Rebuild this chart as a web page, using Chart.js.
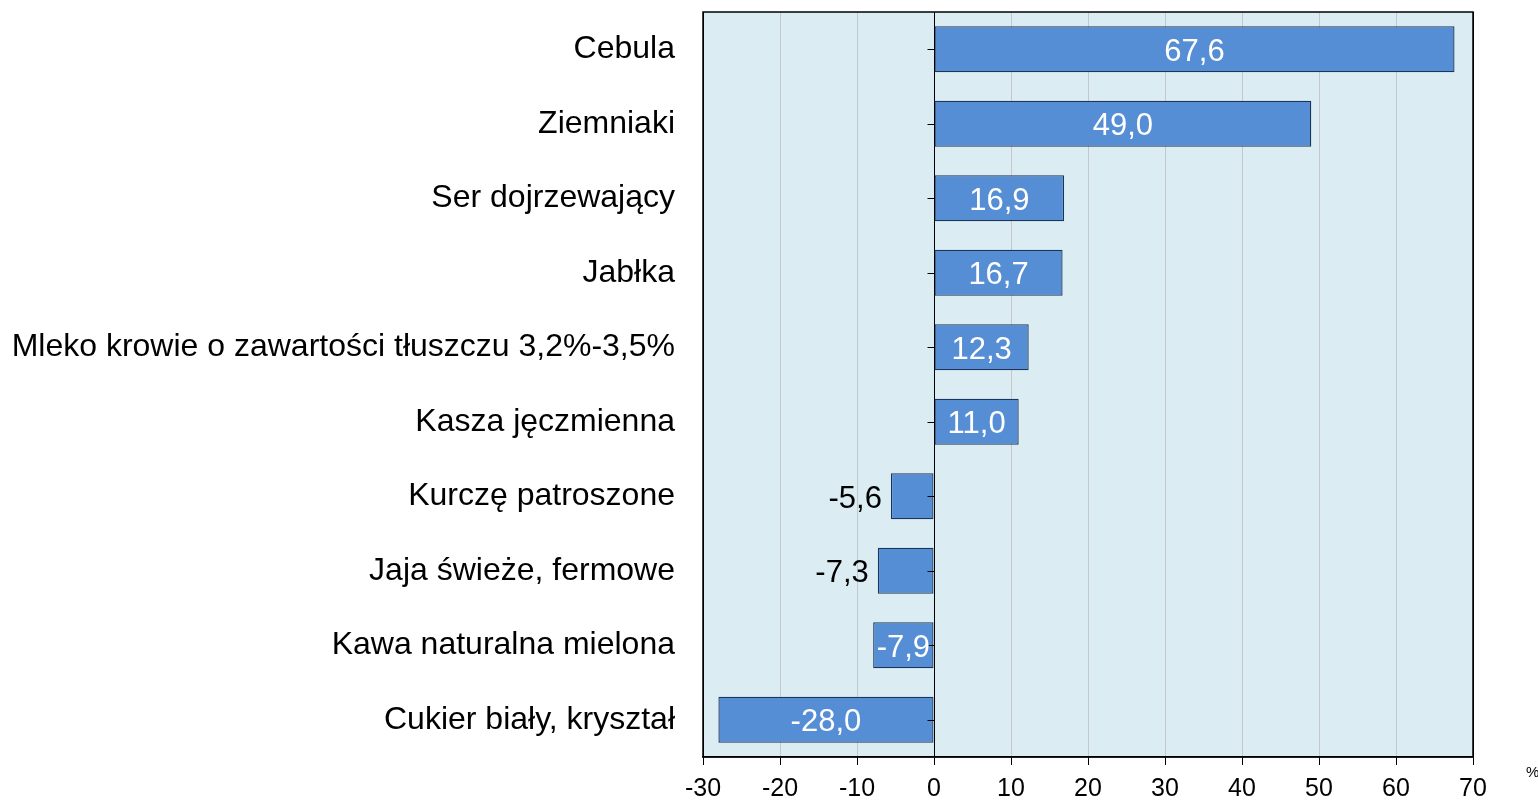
<!DOCTYPE html>
<html>
<head>
<meta charset="utf-8">
<script src="https://cdn.jsdelivr.net/npm/chart.js@4.4.0/dist/chart.umd.min.js"></script>
<style>
  body { margin: 0; background: #ffffff; }
  #wrap { width: 1538px; height: 801px; }
</style>
</head>
<body>
<div id="wrap"><canvas id="myChart01"></canvas></div>
<script>
const kategorie = ['Cebula', 'Ziemniaki', 'Ser dojrzewający', 'Jabłka', 'Mleko krowie o zawartości tłuszczu 3,2%-3,5%', 'Kasza jęczmienna', 'Kurczę patroszone', 'Jaja świeże, fermowe', 'Kawa naturalna mielona', 'Cukier biały, kryształ'];
const zmiany = [67.6, 49.0, 16.9, 16.7, 12.3, 11.0, -5.6, -7.3, -7.9, -28.0];
const osX_min = -30;
const osX_max = 70;
const osX_krok = 10;
const jednostka = '%';

const czcionka = "'Liberation Sans', Arial, sans-serif";

// tlo obszaru wykresu, ramka, os zero i etykiety wartosci
const pluginWykres = {
    id: 'pluginWykres',
    beforeDraw(chart) {
        const ctx = chart.ctx;
        const a = chart.chartArea;
        ctx.save();
        ctx.fillStyle = '#DBEDF3';
        ctx.fillRect(a.left, a.top, a.right - a.left, a.bottom - a.top);
        ctx.restore();
    },
    afterDatasetsDraw(chart) {
        const ctx = chart.ctx;
        const a = chart.chartArea;
        const x = chart.scales.x;
        const y = chart.scales.y;
        const x0 = Math.round(x.getPixelForValue(0)) + 0.5;

        ctx.save();
        // os pionowa w zerze
        ctx.strokeStyle = '#000000';
        ctx.lineWidth = 1;
        ctx.beginPath();
        ctx.moveTo(x0, a.top);
        ctx.lineTo(x0, a.bottom);
        ctx.stroke();
        for (let i = 0; i < kategorie.length; i++) {
            const py = Math.round(y.getPixelForValue(i)) + 0.5;
            ctx.beginPath();
            ctx.moveTo(x0 - 7, py);
            ctx.lineTo(x0, py);
            ctx.stroke();
        }

        // ramka
        ctx.strokeStyle = '#000000';
        ctx.lineWidth = 1.5;
        ctx.strokeRect(a.left, a.top, a.right - a.left, a.bottom - a.top);

        // etykiety wartosci
        ctx.font = '31px ' + czcionka;
        ctx.textBaseline = 'middle';
        const meta = chart.getDatasetMeta(0);
        meta.data.forEach(function (bar, i) {
            const v = zmiany[i];
            const tekst = v.toFixed(1).replace('.', ',');
            const left = Math.min(bar.x, bar.base);
            const right = Math.max(bar.x, bar.base);
            const w = ctx.measureText(tekst).width;
            if (v < 0 && Math.abs(v) < 7.5) {
                ctx.fillStyle = '#000000';
                ctx.textAlign = 'right';
                ctx.fillText(tekst, left - 9, bar.y + 3);
            } else {
                ctx.fillStyle = '#ffffff';
                ctx.textAlign = 'left';
                let tx = (left + right) / 2 - w / 2;
                if (v > 0 && tx < left + 3) tx = left + 3;
                ctx.fillText(tekst, tx, bar.y + 3);
            }
        });

        // jednostka
        ctx.fillStyle = '#000000';
        ctx.font = '15px ' + czcionka;
        ctx.textAlign = 'left';
        ctx.fillText(jednostka, a.right + 53, a.bottom + 16);
        ctx.restore();
    }
};

const grafico1 = document.getElementById('myChart01');

new Chart(grafico1, {
    type: 'bar',
    data: {
        labels: kategorie,
        datasets: [{
            label: 'Zmiana',
            data: zmiany,
            backgroundColor: '#558ED5',
            borderColor: '#1B355A',
            borderWidth: 1.3,
            borderSkipped: false,
            categoryPercentage: 1,
            barPercentage: 0.62
        }]
    },
    options: {
        indexAxis: 'y',
        responsive: true,
        maintainAspectRatio: false,
        animation: false,
        layout: {
            padding: { top: 12, right: 65, left: 0, bottom: 0 }
        },
        plugins: {
            legend: { display: false },
            tooltip: { enabled: false }
        },
        scales: {
            x: {
                min: osX_min,
                max: osX_max,
                afterFit(scale) { scale.height = 44; },
                ticks: {
                    stepSize: osX_krok,
                    color: '#000000',
                    font: { family: czcionka, size: 25 },
                    padding: 9,
                    maxRotation: 0
                },
                grid: {
                    color: function (c) {
                        const v = c.tick ? c.tick.value : null;
                        if (v === osX_min || v === osX_max || v === 0) return '#000000';
                        return '#C4C8CA';
                    },
                    tickColor: '#000000',
                    tickLength: 8,
                    lineWidth: 1
                },
                border: { display: true, color: '#000000', width: 1.5 }
            },
            y: {
                afterFit(scale) { scale.width = 703; },
                ticks: {
                    color: '#000000',
                    font: { family: czcionka, size: 32, lineHeight: 0.7 },
                    padding: 0
                },
                grid: { display: false, drawTicks: true, tickLength: 28 },
                border: { display: false }
            }
        }
    },
    plugins: [pluginWykres]
});
</script>
</body>
</html>
